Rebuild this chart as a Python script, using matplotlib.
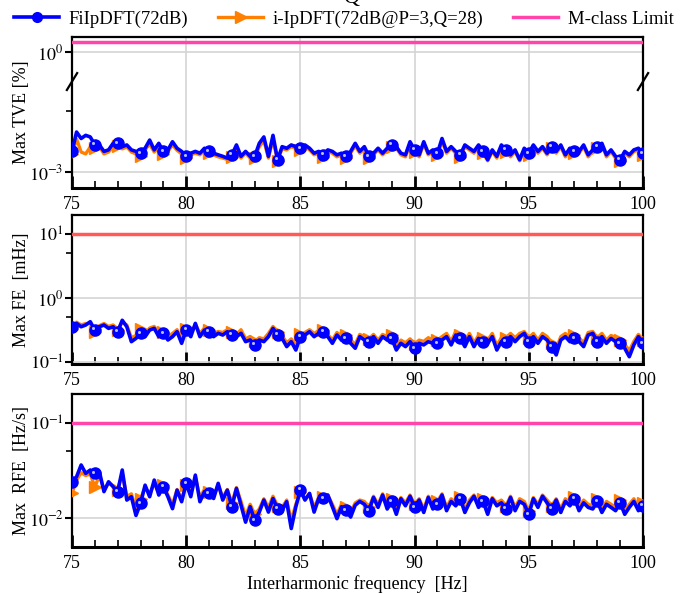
import numpy as np
import matplotlib
matplotlib.use("Agg")
import matplotlib.pyplot as plt
from matplotlib.ticker import FixedLocator, FixedFormatter, MultipleLocator, NullFormatter
from matplotlib.lines import Line2D
import matplotlib.transforms as mtransforms

plt.rcParams['font.family'] = ['Liberation Serif', 'DejaVu Serif']
plt.rcParams['mathtext.fontset'] = 'stix'

# interharmonic frequency grid [Hz]
freq = np.linspace(75, 100, 126)

# Max TVE [%] (values x 1e-3)
tve_fi = np.array([
    1.73, 2.88, 2.43, 2.64, 2.53, 2.05, 2.05, 1.73, 1.80, 2.14,
    2.14, 1.96, 2.05, 1.80, 1.73, 1.65, 1.88, 2.33, 1.80, 2.14,
    1.73, 1.80, 2.23, 1.88, 1.73, 1.52, 1.65, 1.73, 1.65, 1.88,
    1.73, 1.65, 1.58, 1.52, 1.45, 1.58, 2.05, 1.52, 1.73, 1.52,
    1.52, 2.14, 2.53, 1.52, 2.64, 1.39, 1.96, 1.88, 2.05, 1.96,
    1.88, 2.05, 1.88, 1.65, 1.73, 1.58, 1.80, 1.73, 1.58, 1.65,
    1.52, 1.73, 2.14, 1.73,
    1.96, 1.52, 1.65, 1.88, 1.65, 1.88, 2.05, 1.96, 1.65, 1.58,
    2.23, 1.80, 1.58, 2.23, 1.65, 1.80, 1.65, 2.43, 1.73, 1.96,
    1.73, 1.58, 2.05, 1.88, 1.73, 2.05, 1.73, 1.39, 1.80, 1.52,
    2.05, 1.80, 1.58, 1.80, 1.39, 1.88, 1.65, 2.05, 1.73, 1.96,
    1.65, 1.96, 1.73, 2.05, 1.58, 1.88, 1.73, 1.73, 2.05, 1.58,
    1.80, 1.96, 2.14, 1.58, 1.80, 1.52, 1.39, 1.73, 1.58, 1.80,
    1.88, 1.65]) * 1e-3
tve_ip = np.array([
    1.60, 2.40, 1.70, 1.62, 1.95, 1.90, 1.95, 1.62, 1.70, 1.95,
    2.00, 1.85, 1.95, 1.70, 1.62, 1.55, 1.80, 2.10, 1.70, 1.95,
    1.62, 1.72, 2.05, 1.78, 1.62, 1.45, 1.58, 1.65, 1.58, 1.78,
    1.65, 1.58, 1.50, 1.45, 1.40, 1.50, 1.90, 1.45, 1.65, 1.45,
    1.45, 1.95, 2.30, 1.45, 2.35, 1.35, 1.85, 1.80, 1.95, 1.88,
    1.80, 1.95, 1.80, 1.58, 1.65, 1.50, 1.72, 1.65, 1.50, 1.58,
    1.45, 1.65, 2.00, 1.65,
    1.85, 1.45, 1.58, 1.80, 1.58, 1.80, 1.95, 1.88, 1.58, 1.50,
    2.10, 1.72, 1.50, 2.10, 1.58, 1.72, 1.58, 2.25, 1.65, 1.88,
    1.65, 1.50, 1.95, 1.80, 1.65, 1.95, 1.65, 1.35, 1.72, 1.45,
    1.95, 1.72, 1.50, 1.72, 1.35, 1.80, 1.58, 1.95, 1.65, 1.88,
    1.58, 1.88, 1.65, 1.95, 1.50, 1.80, 1.65, 1.65, 1.95, 1.50,
    1.72, 1.88, 2.05, 1.50, 1.72, 1.45, 1.35, 1.65, 1.50, 1.72,
    1.80, 1.58]) * 1e-3

# Max FE [mHz]
fe_fi = np.array([
    0.356, 0.402, 0.356, 0.379, 0.427, 0.316, 0.356, 0.379, 0.336, 0.356,
    0.298, 0.450, 0.356, 0.208, 0.234, 0.281, 0.249, 0.316, 0.336, 0.249,
    0.281, 0.221, 0.249, 0.298, 0.196, 0.316, 0.249, 0.402, 0.249, 0.316,
    0.298, 0.249, 0.281, 0.264, 0.298, 0.264, 0.249, 0.281, 0.208, 0.221,
    0.185, 0.221, 0.208, 0.249, 0.336, 0.264, 0.234, 0.174, 0.208, 0.154,
    0.249, 0.264, 0.298, 0.249, 0.281, 0.298, 0.249, 0.196, 0.264, 0.221,
    0.234, 0.196, 0.164, 0.249,
    0.221, 0.208, 0.249, 0.196, 0.249, 0.221, 0.234, 0.154, 0.196, 0.174,
    0.208, 0.164, 0.196, 0.185, 0.208, 0.196, 0.196, 0.221, 0.249, 0.185,
    0.264, 0.234, 0.174, 0.249, 0.174, 0.234, 0.208, 0.196, 0.249, 0.154,
    0.208, 0.208, 0.249, 0.208, 0.249, 0.281, 0.208, 0.249, 0.196, 0.249,
    0.221, 0.174, 0.129, 0.221, 0.249, 0.208, 0.234, 0.208, 0.174, 0.264,
    0.281, 0.208, 0.249, 0.196, 0.234, 0.208, 0.196, 0.164, 0.121, 0.185,
    0.249, 0.196])
fe_ip = np.array([
    0.330, 0.420, 0.380, 0.400, 0.400, 0.300, 0.370, 0.400, 0.360, 0.380,
    0.320, 0.420, 0.380, 0.240, 0.260, 0.330, 0.270, 0.340, 0.360, 0.280,
    0.300, 0.250, 0.280, 0.320, 0.220, 0.330, 0.270, 0.390, 0.280, 0.340,
    0.320, 0.280, 0.300, 0.290, 0.320, 0.290, 0.270, 0.320, 0.230, 0.250,
    0.210, 0.240, 0.230, 0.280, 0.360, 0.290, 0.260, 0.200, 0.230, 0.180,
    0.270, 0.290, 0.320, 0.280, 0.310, 0.320, 0.270, 0.220, 0.290, 0.250,
    0.260, 0.220, 0.190, 0.270,
    0.250, 0.230, 0.270, 0.220, 0.270, 0.250, 0.260, 0.180, 0.220, 0.200,
    0.230, 0.190, 0.220, 0.210, 0.240, 0.220, 0.220, 0.250, 0.280, 0.210,
    0.300, 0.260, 0.200, 0.280, 0.200, 0.260, 0.240, 0.220, 0.280, 0.180,
    0.240, 0.240, 0.280, 0.240, 0.280, 0.300, 0.240, 0.280, 0.220, 0.280,
    0.250, 0.200, 0.160, 0.250, 0.280, 0.240, 0.260, 0.240, 0.200, 0.290,
    0.300, 0.240, 0.280, 0.220, 0.260, 0.240, 0.220, 0.190, 0.150, 0.210,
    0.270, 0.220])

# Max RFE [Hz/s]
rfe_fi = np.array([
    0.0241, 0.0272, 0.0361, 0.0295, 0.0320, 0.0295, 0.0307, 0.0190, 0.0241, 0.0214,
    0.0190, 0.0320, 0.0155, 0.0168, 0.0107, 0.0143, 0.0222, 0.0168, 0.0251, 0.0175,
    0.0214, 0.0168, 0.0126, 0.0197, 0.0149, 0.0232, 0.0168, 0.0283, 0.0149, 0.0190,
    0.0182, 0.0161, 0.0232, 0.0155, 0.0197, 0.0132, 0.0205, 0.0137, 0.0091, 0.0132,
    0.0095, 0.0116, 0.0155, 0.0116, 0.0161, 0.0126, 0.0121, 0.0149, 0.0078, 0.0132,
    0.0197, 0.0155, 0.0182, 0.0116, 0.0161, 0.0161, 0.0175, 0.0132, 0.0099, 0.0132,
    0.0121, 0.0103, 0.0137, 0.0150,
    0.0140, 0.0120, 0.0165, 0.0130, 0.0175, 0.0125, 0.0150, 0.0110, 0.0160, 0.0135,
    0.0170, 0.0130, 0.0155, 0.0115, 0.0165, 0.0125, 0.0140, 0.0175, 0.0120, 0.0150,
    0.0135, 0.0160, 0.0115, 0.0145, 0.0170, 0.0130, 0.0150, 0.0110, 0.0160, 0.0135,
    0.0145, 0.0125, 0.0165, 0.0120, 0.0150, 0.0140, 0.0110, 0.0160, 0.0130, 0.0170,
    0.0145, 0.0125, 0.0155, 0.0115, 0.0150, 0.0135, 0.0160, 0.0120, 0.0145, 0.0130,
    0.0125, 0.0150, 0.0115, 0.0140, 0.0130, 0.0120, 0.0145, 0.0110, 0.0130, 0.0150,
    0.0120, 0.0135])
rfe_ip = np.array([
    0.0182, 0.0250, 0.0300, 0.0280, 0.0290, 0.0214, 0.0280, 0.0200, 0.0230, 0.0220,
    0.0200, 0.0290, 0.0170, 0.0180, 0.0125, 0.0160, 0.0210, 0.0180, 0.0230, 0.0185,
    0.0225, 0.0175, 0.0140, 0.0200, 0.0160, 0.0225, 0.0180, 0.0270, 0.0165, 0.0200,
    0.0190, 0.0170, 0.0225, 0.0165, 0.0200, 0.0145, 0.0210, 0.0150, 0.0105, 0.0140,
    0.0110, 0.0125, 0.0160, 0.0130, 0.0170, 0.0135, 0.0130, 0.0155, 0.0095, 0.0140,
    0.0190, 0.0160, 0.0180, 0.0130, 0.0165, 0.0165, 0.0175, 0.0140, 0.0110, 0.0140,
    0.0130, 0.0115, 0.0145, 0.0155,
    0.0150, 0.0130, 0.0170, 0.0140, 0.0180, 0.0135, 0.0160, 0.0125, 0.0165, 0.0145,
    0.0175, 0.0140, 0.0160, 0.0125, 0.0170, 0.0135, 0.0150, 0.0180, 0.0130, 0.0160,
    0.0145, 0.0165, 0.0125, 0.0155, 0.0175, 0.0140, 0.0160, 0.0120, 0.0165, 0.0145,
    0.0155, 0.0135, 0.0170, 0.0130, 0.0160, 0.0150, 0.0120, 0.0165, 0.0140, 0.0175,
    0.0155, 0.0135, 0.0160, 0.0125, 0.0160, 0.0145, 0.0165, 0.0130, 0.0155, 0.0140,
    0.0135, 0.0160, 0.0125, 0.0150, 0.0140, 0.0130, 0.0155, 0.0120, 0.0140, 0.0160,
    0.0130, 0.0145])

# M-class limits
tve_limit = 1.3
fe_limit = 10.0
rfe_limit = 0.1

BLUE = '#0000ff'
ORANGE = '#ff7f00'
PINK = '#ff44aa'


# broken log scale for the TVE panel (gap between 1e-2 and ~0.45)
def tve_fwd(y):
    L = np.log10(np.clip(y, 1e-12, None))
    return np.where(L <= -2, L, np.where(L >= -0.35, L - 1.65 + 0.02, -2 + (L + 2) / 1.65 * 0.02))


def tve_inv(t):
    L = np.where(t <= -2, t, np.where(t >= -1.98, t + 1.65 - 0.02, -2 + (t + 2) / 0.02 * 1.65))
    return 10 ** L


fig = plt.figure(figsize=(6.81, 5.94), dpi=100)
left, width = 72 / 681, 571 / 681
ax1 = fig.add_axes([left, 1 - 188 / 594, width, 151 / 594])
ax2 = fig.add_axes([left, 1 - 364 / 594, width, 149 / 594])
ax3 = fig.add_axes([left, 1 - 547 / 594, width, 153 / 594])

panels = [
    (ax1, tve_fi, tve_ip, tve_limit, PINK),
    (ax2, fe_fi, fe_ip, fe_limit, '#ff5a55'),
    (ax3, rfe_fi, rfe_ip, rfe_limit, PINK),
]

for ax, fi, ip, lim, lcol in panels:
    ax.axhline(lim, color=lcol, lw=2.5, zorder=3)
    ax.plot(freq, ip, color=ORANGE, lw=2.4, marker='>', ms=9, markevery=5, zorder=4)
    ax.plot(freq, fi, color=BLUE, lw=2.6, marker='o', ms=8, markevery=5,
            mfc=BLUE, mec=BLUE, zorder=5)
    # small highlight on the ball markers
    hl = mtransforms.offset_copy(ax.transData, fig=fig, x=-1.2, y=1.2, units='points')
    ax.plot(freq[::5], fi[::5], ls='none', marker='o', ms=2.2, mfc='#b8bfff', mec='none',
            transform=hl, zorder=6)

ax1.set_yscale('function', functions=(tve_fwd, tve_inv))
ax1.set_ylim(6.6e-4, 1.5)
ax1.yaxis.set_major_locator(FixedLocator([1e-3, 1e0]))
ax1.yaxis.set_major_formatter(FixedFormatter([r'$10^{-3}$', r'$10^{0}$']))
ax1.yaxis.set_minor_locator(FixedLocator([5e-3]))
ax1.yaxis.set_minor_formatter(NullFormatter())

ax2.set_yscale('log')
ax2.set_ylim(0.093, 20)
ax2.yaxis.set_major_locator(FixedLocator([0.1, 1, 10]))
ax2.yaxis.set_major_formatter(FixedFormatter([r'$10^{-1}$', r'$10^{0}$', r'$10^{1}$']))
ax2.yaxis.set_minor_locator(FixedLocator([0.5, 5]))
ax2.yaxis.set_minor_formatter(NullFormatter())

ax3.set_yscale('log')
ax3.set_ylim(0.005, 0.2)
ax3.yaxis.set_major_locator(FixedLocator([0.01, 0.1]))
ax3.yaxis.set_major_formatter(FixedFormatter([r'$10^{-2}$', r'$10^{-1}$']))
ax3.yaxis.set_minor_locator(FixedLocator([0.05]))
ax3.yaxis.set_minor_formatter(NullFormatter())

for ax in (ax1, ax2, ax3):
    ax.set_xlim(75, 100)
    ax.xaxis.set_major_locator(MultipleLocator(5))
    ax.xaxis.set_minor_locator(MultipleLocator(1))
    ax.grid(True, which='major', color='#d4d4d4', lw=1.2, zorder=0)
    ax.set_axisbelow(True)
    ax.tick_params(axis='x', which='major', direction='in', length=9, width=2, labelsize=13, pad=6)
    ax.tick_params(axis='x', which='minor', direction='in', length=5, width=1.2)
    ax.tick_params(axis='y', which='major', direction='out', length=5, width=1.5, labelsize=13, pad=1)
    ax.tick_params(axis='y', which='minor', direction='out', length=4, width=1.2)
    for s in ax.spines.values():
        s.set_linewidth(1.6)
    ax.spines['bottom'].set_linewidth(2.2)

ax1.set_ylabel('Max TVE [%]', fontsize=13)
ax2.set_ylabel('Max FE  [mHz]', fontsize=13)
ax3.set_ylabel('Max  RFE  [Hz/s]', fontsize=13)
for ax in (ax1, ax2, ax3):
    ax.yaxis.set_label_coords(-0.074, 0.5)
ax3.set_xlabel('Interharmonic frequency  [Hz]', fontsize=13, labelpad=2)

# break marks on the TVE axis
for xc in (0.0, 1.0):
    ax1.plot([xc - 0.009, xc + 0.009], [0.705 - 0.056, 0.705 + 0.056], color='k', lw=1.6,
             transform=ax1.transAxes, clip_on=False, zorder=10)

handles = [
    Line2D([], [], color=BLUE, lw=2.6, marker='o', ms=7, mfc=BLUE),
    Line2D([], [], color=ORANGE, lw=2.4, marker='>', ms=8),
    Line2D([], [], color=PINK, lw=2.5),
]
fig.legend(handles, ['FiIpDFT(72dB)', 'i-IpDFT(72dB@P=3,Q=28)', 'M-class Limit'],
           loc='center', bbox_to_anchor=(0.505, 0.968), ncol=3, frameon=False,
           fontsize=13.5, handlelength=2.4, columnspacing=1.6, handletextpad=0.5)

# clipped title remnant at the very top
fig.text(0.515, 1 - 3 / 594, 'Q', fontsize=16, ha='center', va='baseline')

fig.savefig('out.png', dpi=100)
